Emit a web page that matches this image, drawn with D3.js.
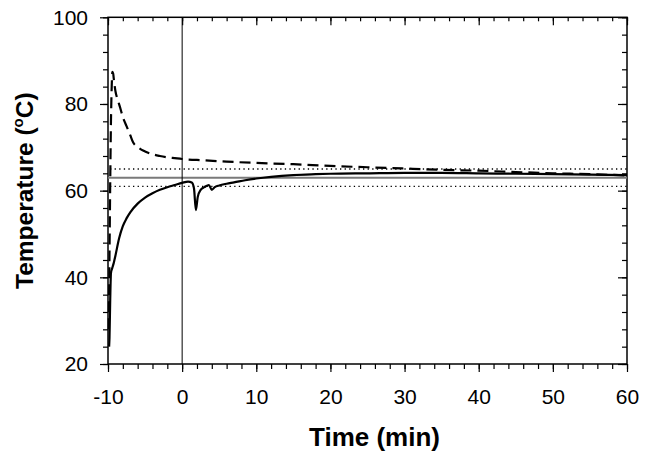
<!DOCTYPE html>
<html>
<head>
<meta charset="utf-8">
<script src="https://cdn.jsdelivr.net/npm/d3@7/dist/d3.min.js"></script>
<style>
  body { margin: 0; background: #fff; }
  text { font-family: "Liberation Sans", Arial, sans-serif; fill: #000; }
  .axis path, .axis line { stroke: #000; stroke-width: 1.2; }
</style>
</head>
<body>
<div id="chart"></div>
<script>
// solid curve (time in min, temperature in degC)
var solidTime = [-9.85, -9.8, -9.7, -9.6, -9.45, -9.2, -9.0, -8.5, -8.0, -7.5, -7.0, -6.0, -5.0, -4.0, -3.0, -2.0, -1.0, 0.0, 0.8, 1.3,
  1.6, 1.85, 2.1, 2.5, 3.0, 3.6, 4.0, 4.4, 5.0, 6.0, 7.0, 8.5, 10, 12, 15, 18, 20, 25, 30, 35, 40, 45, 50, 55, 60];
var solidTemp = [24, 26, 35, 41, 42, 43.5, 45, 49, 51.8, 53.6, 55, 57, 58.4, 59.4, 60.2, 60.8, 61.3, 61.8, 62.1, 61.9,
  60.5, 55.5, 58.5, 60.2, 60.8, 61.3, 60.2, 60.8, 61.2, 61.6, 61.9, 62.4, 62.8, 63.2, 63.6, 63.8, 63.9, 64.0, 64.1, 64.1, 64.0, 63.9, 63.8, 63.7, 63.6];

// dashed curve
var dashTime = [-9.9, -9.8, -9.7, -9.6, -9.5, -9.4, -9.3, -9.2, -9.0, -8.7, -8.4, -8.0, -7.5, -7.0, -6.6, -6.0, -5.2, -4.0, -3.0, -2.0, -1.0, 0,
  3, 6, 10, 15, 20, 25, 30, 35, 40, 45, 50, 55, 60];
var dashTemp = [28, 45, 62, 76, 84, 87.4, 87, 85.5, 83, 81, 79.4, 77, 74.9, 72.8, 71.1, 70.1, 69.2, 68.4, 68.0, 67.7, 67.5, 67.3,
  67.0, 66.7, 66.4, 66.1, 65.7, 65.4, 65.1, 64.8, 64.6, 64.3, 64.0, 63.8, 63.5];

// reference lines
var targetTemp = 63;
var limitTemps = [61, 65];
var markTime = 0;

var xTicks = [-10, 0, 10, 20, 30, 40, 50, 60];
var yTicks = [20, 40, 60, 80, 100];

var svgWidth = 649;
var svgHeight = 458;
var margin = { top: 17.3, right: 22, bottom: 94, left: 108 };
var width = svgWidth - margin.left - margin.right;
var height = svgHeight - margin.top - margin.bottom;

var svg = d3.select("#chart")
  .append("svg")
  .attr("width", svgWidth)
  .attr("height", svgHeight);

var chartGroup = svg.append("g")
  .attr("transform", `translate(${margin.left}, ${margin.top})`);

var xScale = d3.scaleLinear().domain([-10, 60]).range([0, width]);
var yScale = d3.scaleLinear().domain([20, 100]).range([height, 0]);

var xMinor = d3.range(-10, 60.1, 2);
var yMinor = d3.range(20, 100.1, 4);

// minor ticks first, then major ticks with labels
function addAxis(axisFn, scale, values, size, labels, transform) {
  var g = chartGroup.append("g")
    .attr("class", "axis")
    .attr("transform", transform)
    .call(axisFn(scale).tickValues(values).tickSize(size).tickSizeOuter(0)
      .tickFormat(function(d) { return labels ? String(d) : ""; }));
  g.select(".domain").remove();
  return g;
}

// bottom (outside ticks)
addAxis(d3.axisBottom, xScale, xMinor, 5, false, `translate(0, ${height})`);
var xAxis = addAxis(d3.axisBottom, xScale, xTicks, 8, true, `translate(0, ${height})`);
xAxis.selectAll("text").attr("font-size", "21px").attr("y", 25);

// left (outside ticks)
addAxis(d3.axisLeft, yScale, yMinor, 5, false, "translate(0,0)");
var yAxis = addAxis(d3.axisLeft, yScale, yTicks, 8, true, "translate(0,0)");
yAxis.selectAll("text").attr("font-size", "21px").attr("x", -20);

// top and right (inside ticks)
addAxis(d3.axisTop, xScale, xMinor, -4, false, "translate(0,0)");
addAxis(d3.axisTop, xScale, xTicks, -8, false, "translate(0,0)");
addAxis(d3.axisRight, yScale, yMinor, -5, false, `translate(${width},0)`);
addAxis(d3.axisRight, yScale, yTicks, -9, false, `translate(${width},0)`);

// frame
chartGroup.append("rect")
  .attr("width", width)
  .attr("height", height)
  .attr("fill", "none")
  .attr("stroke", "#000")
  .attr("stroke-width", 1.5);

// reference lines
chartGroup.append("line")
  .attr("x1", 0).attr("x2", width)
  .attr("y1", yScale(targetTemp)).attr("y2", yScale(targetTemp))
  .attr("stroke", "#7a7a7a")
  .attr("stroke-width", 2);

chartGroup.selectAll(".limit")
  .data(limitTemps)
  .enter()
  .append("line")
  .attr("class", "limit")
  .attr("x1", 2).attr("x2", width)
  .attr("y1", function(d) { return yScale(d); })
  .attr("y2", function(d) { return yScale(d); })
  .attr("stroke", "#000")
  .attr("stroke-width", 1.3)
  .attr("stroke-dasharray", "1.3,3.3");

chartGroup.append("line")
  .attr("x1", xScale(markTime)).attr("x2", xScale(markTime))
  .attr("y1", 0).attr("y2", height)
  .attr("stroke", "#000")
  .attr("stroke-width", 1);

var line = d3.line()
  .x(function(d) { return xScale(d[0]); })
  .y(function(d) { return yScale(d[1]); })
  .curve(d3.curveMonotoneX);

// dashed curve
chartGroup.append("path")
  .datum(d3.zip(dashTime, dashTemp))
  .attr("d", line)
  .attr("fill", "none")
  .attr("stroke", "#000")
  .attr("stroke-width", 2.2)
  .attr("stroke-dasharray", "11,6");

// solid curve
chartGroup.append("path")
  .datum(d3.zip(solidTime, solidTemp))
  .attr("d", line)
  .attr("fill", "none")
  .attr("stroke", "#000")
  .attr("stroke-width", 2.2);

// axis titles
svg.append("text")
  .attr("x", margin.left + width / 2 + 7)
  .attr("y", 446)
  .attr("text-anchor", "middle")
  .attr("font-size", "26px")
  .attr("font-weight", "bold")
  .text("Time (min)");

var yTitle = svg.append("text")
  .attr("transform", `translate(33, ${margin.top + height / 2}) rotate(-90)`)
  .attr("text-anchor", "middle")
  .attr("font-size", "24.5px")
  .attr("font-weight", "bold");
yTitle.append("tspan").text("Temperature (");
yTitle.append("tspan").attr("font-size", "15px").attr("dy", -10).text("o");
yTitle.append("tspan").attr("dy", 10).text("C)");
</script>
</body>
</html>
